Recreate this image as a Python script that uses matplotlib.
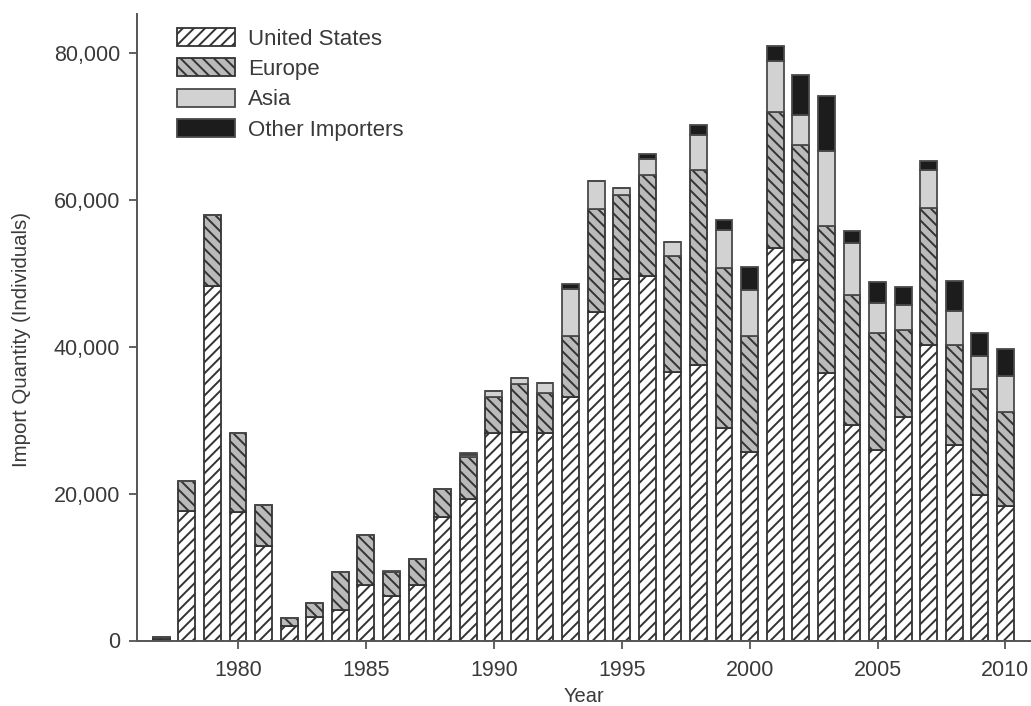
import matplotlib
matplotlib.use("Agg")
import matplotlib.pyplot as plt
from matplotlib.ticker import StrMethodFormatter
import numpy as np

years = list(range(1977, 2011))
# values in individuals
united_states = [250, 17600, 48300, 17500, 12800, 2000, 3200, 4200, 7500, 6100,
                 7500, 16800, 19300, 28300, 28400, 28300, 33100, 44700, 49200, 49600,
                 36500, 37500, 29000, 25700, 53400, 51800, 36400, 29300, 26000, 30400,
                 40200, 26600, 19800, 18300]
europe = [250, 4100, 9600, 10700, 5700, 1000, 1900, 5100, 6900, 3200,
          3600, 3800, 5700, 4900, 6500, 5400, 8400, 14000, 11400, 13800,
          15800, 26500, 21700, 15700, 18500, 15700, 20100, 17800, 15800, 11900,
          18700, 13600, 14400, 12800]
asia = [0, 0, 0, 0, 0, 0, 0, 0, 0, 0,
        0, 0, 200, 800, 900, 1400, 6300, 3800, 1000, 2200,
        2000, 4800, 5200, 6300, 7000, 4000, 10100, 7000, 4100, 3400,
        5100, 4600, 4500, 4900]
other = [0, 0, 0, 0, 0, 0, 0, 0, 0, 200,
         0, 0, 300, 0, 0, 0, 800, 0, 0, 600,
         0, 1400, 1400, 3200, 2000, 5500, 7500, 1600, 2900, 2400,
         1300, 4200, 3200, 3700]
labels = ["United States", "Europe", "Asia", "Other Importers"]
xticks = [1980, 1985, 1990, 1995, 2000, 2005, 2010]
yticks = [0, 20000, 40000, 60000, 80000]

plt.rcParams['font.family'] = ['Liberation Sans', 'DejaVu Sans']
plt.rcParams['hatch.linewidth'] = 1.4

fig = plt.figure(figsize=(10.31, 7.06), dpi=100)
ax = fig.add_axes([137/1031, 65.5/706, 1 - 137/1031, (640.5 - 14)/706])

ec = '#333333'
x = np.array(years)
us = np.array(united_states)
eu = np.array(europe)
asv = np.array(asia)
ot = np.array(other)
w = 0.66
ax.bar(x, us, w, color='white', edgecolor=ec, hatch='///', linewidth=1.3, label=labels[0])
ax.bar(x, eu, w, bottom=us, color='#bababa', edgecolor=ec, hatch='\\\\\\', linewidth=1.3, label=labels[1])
ax.bar(x, asv, w, bottom=us + eu, color='#d2d2d2', edgecolor='#4a4a4a', linewidth=1.3, label=labels[2])
ax.bar(x, ot, w, bottom=us + eu + asv, color='#1c1c1c', edgecolor='#4a4a4a', linewidth=1.3, label=labels[3])

ax.set_xlim(1976.05, 2011.0)
ax.set_ylim(0, 85300)
ax.set_xticks(xticks)
ax.set_yticks(yticks)
ax.yaxis.set_major_formatter(StrMethodFormatter('{x:,.0f}'))
for s in ['top', 'right']:
    ax.spines[s].set_visible(False)
for s in ['left', 'bottom']:
    ax.spines[s].set_color('#555555')
    ax.spines[s].set_linewidth(1.4)
ax.tick_params(axis='both', colors='#555555', labelcolor='#3a3a3a', labelsize=15.5,
               length=6, width=1.3, direction='out')
ax.tick_params(axis='x', pad=8)
ax.tick_params(axis='y', pad=6)

ax.set_xlabel('Year', fontsize=14.5, color='#3a3a3a', labelpad=4)
ax.set_ylabel('Import Quantity (Individuals)', fontsize=14.7, color='#3a3a3a')
ax.yaxis.set_label_coords(-106/894, 0.48)

leg = ax.legend(loc='upper left', bbox_to_anchor=(40/894, 1 - 14/626.5), frameon=False,
                fontsize=16, handlelength=2.6, handleheight=0.85, labelspacing=0.40,
                handletextpad=0.6, borderpad=0, borderaxespad=0)
for t in leg.get_texts():
    t.set_color('#3a3a3a')

fig.savefig('out.png', dpi=100)
